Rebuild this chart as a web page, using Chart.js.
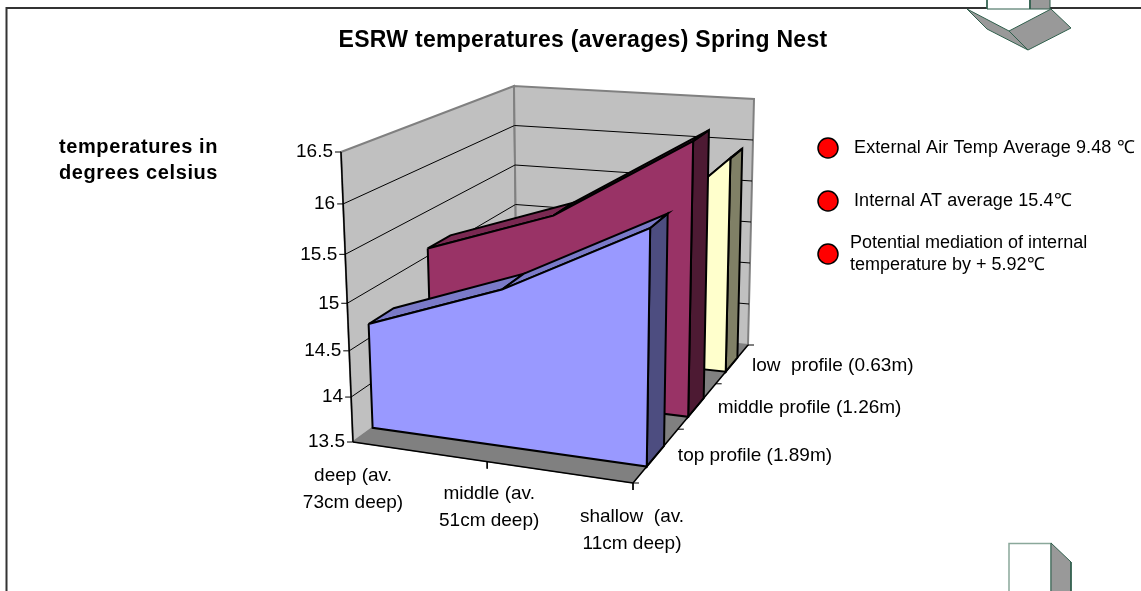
<!DOCTYPE html>
<html>
<head>
<meta charset="utf-8">
<title>ESRW temperatures</title>
<style>
    html, body { margin: 0; padding: 0; background: #fff; }
    canvas { display: block; }
</style>
<script src="https://cdn.jsdelivr.net/npm/chart.js@4"></script>
</head>
<body>
<canvas id="chart" width="1141" height="591"></canvas>
<script>
const chartTitle = 'ESRW temperatures (averages) Spring Nest';
const valueAxisTitle = ['temperatures in', 'degrees celsius'];
const categories = [['deep (av.', '73cm deep)'], ['middle (av.', '51cm deep)'], ['shallow  (av.', '11cm deep)']];
const seriesNames = ['top profile (1.89m)', 'middle profile (1.26m)', 'low  profile (0.63m)'];
const valueTicks = [13.5, 14, 14.5, 15, 15.5, 16, 16.5];
const topProfile = [14.65, 15.18, 15.95];
const middleProfile = [15.08, 15.58, 16.5];
const lowProfile = [14.3, 14.6, 16];
const notes = [
    ['External Air Temp Average 9.48 ℃'],
    ['Internal AT average 15.4℃'],
    ['Potential mediation of internal', 'temperature by + 5.92℃'],
];

const VALUE_MIN = 13.5;
const VALUE_MAX = 16.5;

// cube corners as seen on screen, front/back, left/right, bottom/top
const corners = {
    flb: [353, 442], flt: [341, 152],
    frb: [633, 483], frt: [637, 180],
    blb: [517, 323], blt: [514, 86],
    brb: [748, 345], brt: [754, 99],
};

const mix = (a, b, t) => [a[0] + (b[0] - a[0]) * t, a[1] + (b[1] - a[1]) * t];
// perspective squeeze along one axis
const squeeze = (t, k) => (1 + k) * t / (1 + k * t);

function project(cat, depth, value) {
    const c = squeeze(cat, -0.08);
    const d = squeeze(depth, 0.279);
    // the squeeze on the height fades out towards the back wall
    const v = squeeze((value - VALUE_MIN) / (VALUE_MAX - VALUE_MIN), -0.083 * (1 - d));
    const bottom = mix(mix(corners.flb, corners.frb, c), mix(corners.blb, corners.brb, c), d);
    const top = mix(mix(corners.flt, corners.frt, c), mix(corners.blt, corners.brt, c), d);
    const p = mix(bottom, top, v);
    return {x: p[0], y: p[1]};
}

const layers = [];

function addShape(points, fill, stroke, width) {
    layers.push({
        data: fill ? points.concat([points[0]]) : points,
        showLine: true,
        tension: 0,
        pointRadius: 0,
        fill: fill ? 'shape' : false,
        backgroundColor: fill || 'transparent',
        borderColor: stroke || 'transparent',
        borderWidth: stroke ? width : 0,
        borderJoinStyle: 'miter',
    });
}

const xy = (x, y) => ({x, y});

function addWalls() {
    const {flb, flt, blb, blt, brb, brt, frb} = corners;
    const pts = list => list.map(p => xy(p[0], p[1]));
    addShape(pts([flb, flt, blt, blb]), '#C0C0C0', '#808080', 2);
    addShape(pts([blb, blt, brt, brb]), '#C0C0C0', '#808080', 2);
    addShape(pts([flb, frb, brb, blb]), '#808080', '#808080', 1);
    valueTicks.slice(1, -1).forEach(v => {
        addShape([project(0, 0, v), project(0, 1, v), project(1, 1, v)], null, '#000', 1);
    });
    addShape(pts([flb, flt]), null, '#000', 1.5);
    addShape(pts([flb, frb]), null, '#000', 1.5);
    addShape(pts([frb, brb]), null, '#000', 1.5);
}

function addTicks() {
    valueTicks.forEach(v => {
        const p = project(0, 0, v);
        addShape([xy(p.x - 6, p.y), p], null, '#000', 1);
    });
    [0.5, 1].forEach(c => {
        const p = project(c, 0, VALUE_MIN);
        addShape([p, xy(p.x, p.y + 7)], null, '#000', 1);
    });
    [0, 1 / 3, 2 / 3, 1].forEach(d => {
        const p = project(1, d, VALUE_MIN);
        addShape([p, xy(p.x + 6, p.y)], null, '#000', 1);
    });
}

function addBand(values, zFront, zBack, front, top, side) {
    const last = values.length - 1;
    const cat = i => i / last;
    const w = 2;
    addShape([
        project(1, zFront, values[last]), project(1, zBack, values[last]),
        project(1, zBack, VALUE_MIN), project(1, zFront, VALUE_MIN),
    ], side, '#000', w);
    for (let i = 0; i < last; i++) {
        addShape([
            project(cat(i), zFront, values[i]), project(cat(i + 1), zFront, values[i + 1]),
            project(cat(i + 1), zBack, values[i + 1]), project(cat(i), zBack, values[i]),
        ], top, '#000', w);
    }
    const outline = values.map((v, i) => project(cat(i), zFront, v));
    addShape(outline.concat([project(1, zFront, VALUE_MIN), project(0, zFront, VALUE_MIN)]), front, '#000', w);
}

function addDecorations() {
    const green = '#2F5F4C';
    const soft = '#8AA89A';
    // page frame, broken by the arrow at the top right
    addShape([xy(6.5, 591), xy(6.5, 8), xy(987, 8)], null, '#333', 2);
    addShape([xy(1050, 8), xy(1141, 8)], null, '#333', 2);
    // arrow at the top right
    addShape([xy(987, -1), xy(987, 9), xy(1030, 9), xy(1030, -1)], '#fff', green, 1);
    addShape([xy(1030, -1), xy(1030, 9), xy(1050, 9), xy(1050, -1)], '#999999', green, 1);
    addShape([xy(967, 9), xy(987, 29), xy(1028, 50), xy(1009, 31)], '#999999', green, 1);
    addShape([xy(1009, 31), xy(1051, 9), xy(1071, 28), xy(1028, 50)], '#999999', green, 1);
    // arrow at the bottom right
    addShape([xy(1009, 593), xy(1009, 543.5), xy(1051, 543.5), xy(1051, 593)], '#fff', soft, 1.5);
    addShape([xy(1051, 543), xy(1071, 562), xy(1071, 593), xy(1051, 593)], '#999999', green, 1);
    // note markers
    [148, 201, 254].forEach(y => {
        layers.push({
            data: [xy(828, y)], showLine: false, pointRadius: 10,
            pointBackgroundColor: '#FF0000', pointBorderColor: '#000', pointBorderWidth: 1.5,
        });
    });
}

addWalls();
addTicks();
addBand(lowProfile, 0.765, 0.885, '#FFFFCC', '#CCCCA3', '#808066');
addBand(middleProfile, 0.419, 0.555, '#993366', '#7A2952', '#4D1A33');
addBand(topProfile, 0.096, 0.224, '#9999FF', '#7A7AC8', '#4D4D80');
addDecorations();
// Chart.js paints the first dataset last, so flip the painter's order
layers.reverse();

function label(ctx, text, x, y, font, align, spacing) {
    ctx.font = font;
    ctx.textAlign = align || 'left';
    ctx.textBaseline = 'middle';
    ctx.letterSpacing = spacing || '0px';
    ctx.fillStyle = '#000';
    ctx.fillText(text, x, y);
}

const textPlugin = {
    id: 'chartText',
    afterDatasetsDraw(chart) {
        const ctx = chart.ctx;
        const sans = '"Liberation Sans", Arial, sans-serif';
        const tickFont = '19px ' + sans;
        const noteFont = '18px ' + sans;
        ctx.save();
        label(ctx, chartTitle, 583, 40.5, 'bold 23px ' + sans, 'center', '0.28px');
        valueAxisTitle.forEach((line, i) => label(ctx, line, 59, 147 + i * 26, 'bold 20px ' + sans, 'left', '0.6px'));
        valueTicks.forEach(v => {
            const p = project(0, 0, v);
            label(ctx, String(v), p.x - 8, p.y, tickFont, 'right');
        });
        const catShift = [[0, 34], [2, 32], [-1, 34]];
        categories.forEach((lines, i) => {
            const p = project(i / (categories.length - 1), 0, VALUE_MIN);
            lines.forEach((line, j) => label(ctx, line, p.x + catShift[i][0], p.y + catShift[i][1] + j * 27, tickFont, 'center'));
        });
        const seriesShift = [[1, 27], [3, 24], [5, 21]];
        seriesNames.forEach((name, i) => {
            const p = project(1, (i + 1) / 3, VALUE_MIN);
            label(ctx, name, p.x - 1 + seriesShift[i][0], p.y + seriesShift[i][1], tickFont, 'left');
        });
        label(ctx, notes[0][0], 854, 148, noteFont, 'left', '0.12px');
        label(ctx, notes[1][0], 854, 201, noteFont, 'left', '0.12px');
        notes[2].forEach((line, i) => label(ctx, line, 850, 243 + i * 22, noteFont));
        ctx.restore();
    },
};

new Chart(document.getElementById('chart').getContext('2d'), {
    type: 'scatter',
    data: {datasets: layers},
    options: {
        responsive: false,
        animation: false,
        events: [],
        layout: {padding: 0, autoPadding: false},
        plugins: {
            legend: {display: false},
            tooltip: {enabled: false},
        },
        scales: {
            x: {type: 'linear', display: false, min: 0, max: 1141},
            y: {type: 'linear', display: false, min: 0, max: 591, reverse: true},
        },
    },
    plugins: [textPlugin],
});
</script>
</body>
</html>
